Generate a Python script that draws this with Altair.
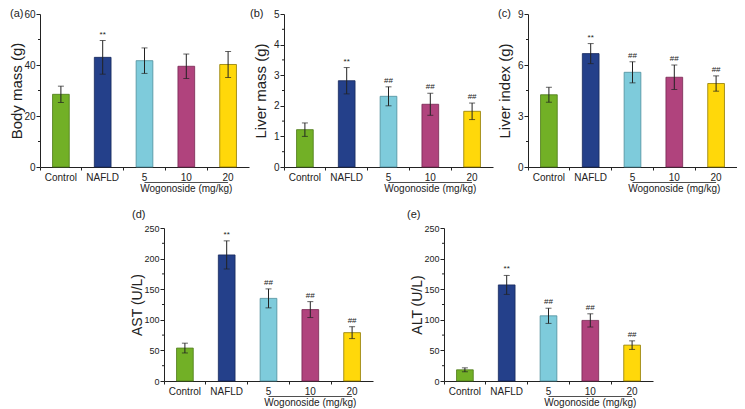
import altair as alt
import pandas as pd

groups = ["Control", "NAFLD", "5", "10", "20"]
fills = ["#72B026", "#24408A", "#7ECBDB", "#B0437D", "#FFD80A"]
strokes = ["#4C7A16", "#15275A", "#4E8E9C", "#772752", "#8F7A00"]

body_mass = [28.5, 43.0, 41.7, 39.5, 40.2]
body_mass_sd = [3.2, 6.6, 5.0, 4.8, 5.1]
liver_mass = [1.22, 2.82, 2.31, 2.05, 1.82]
liver_mass_sd = [0.22, 0.43, 0.31, 0.36, 0.27]
liver_index = [4.25, 6.67, 5.57, 5.28, 4.91]
liver_index_sd = [0.44, 0.59, 0.62, 0.72, 0.45]
ast_vals = [53.8, 206.0, 135.0, 116.7, 79.0]
ast_sd = [8.0, 23.0, 15.5, 13.0, 9.7]
alt_vals = [18.3, 157.0, 106.5, 99.0, 58.6]
alt_sd = [3.2, 15.5, 12.4, 10.8, 7.0]

sig_a = ["", "**", "", "", ""]
sig_other = ["", "**", "##", "##", "##"]

# y-axis tick labels (major) and minor tick positions per panel
ticks_a = [0, 20, 40, 60]
minor_a = [10, 30, 50]
ticks_b = [0, 1, 2, 3, 4, 5]
minor_b = [0.5, 1.5, 2.5, 3.5, 4.5]
ticks_c = [0, 3, 6, 9]
minor_c = [1.5, 4.5, 7.5]
ticks_de = [0, 50, 100, 150, 200, 250]
minor_de = [25, 75, 125, 175, 225]

dose_groups = ["5", "20"]
dose_label_group = ["10"]
dose_label = ["Wogonoside (mg/kg)"]

FONT = "Liberation Sans"
INK = "#222222"
W = 209
H = 153


def panel(letter, letter_dx, letter_dy, ytitle, vals, sds, sig, ticks, minors, tick_fs,
          title_fs, title_x):
    df = pd.DataFrame({"group": groups, "value": vals, "sd": sds, "sig": sig})
    df["lo"] = df["value"] - df["sd"]
    df["hi"] = df["value"] + df["sd"]
    ymax = ticks[-1]

    xs = alt.Scale(domain=groups, paddingInner=0, paddingOuter=0)
    ys = alt.Scale(domain=[0, ymax], nice=False, zero=True)
    base = alt.Chart(df)

    bars = base.mark_bar(width=alt.RelativeBandSize(0.4), strokeWidth=0.8).encode(
        x=alt.X("group:N", scale=xs, sort=groups, axis=alt.Axis(
            title=None, bandPosition=0, tickSize=3,
            labelAngle=0, labelPadding=2, labelFontSize=10, labelFont=FONT,
            labelColor=INK, domainColor=INK, tickColor=INK, grid=False)),
        y=alt.Y("value:Q", scale=ys, axis=alt.Axis(
            values=ticks, tickCount=len(ticks) + 20, format="d", title=ytitle,
            titleFont=FONT, titleFontSize=title_fs, titleFontWeight="normal",
            titleColor=INK, titleX=title_x, titleY=H / 2,
            labelOverlap=False, tickSize=4, labelPadding=1, labelFontSize=tick_fs,
            labelFont=FONT, labelColor=INK, domainColor=INK, tickColor=INK, grid=False)),
        fill=alt.Fill("group:N", scale=alt.Scale(domain=groups, range=fills), legend=None),
        stroke=alt.Stroke("group:N", scale=alt.Scale(domain=groups, range=strokes), legend=None),
    )
    err = base.mark_rule(color=INK, strokeWidth=1).encode(
        x=alt.X("group:N", sort=groups), y=alt.Y("lo:Q"), y2="hi:Q")
    cap_hi = base.mark_tick(orient="horizontal", size=6, thickness=1, color=INK).encode(
        x=alt.X("group:N", sort=groups), y=alt.Y("hi:Q"))
    cap_lo = base.mark_tick(orient="horizontal", size=6, thickness=1, color=INK).encode(
        x=alt.X("group:N", sort=groups), y=alt.Y("lo:Q"))
    sig_txt = base.mark_text(fontSize=8, font=FONT, color=INK, baseline="middle", dy=-6).encode(
        x=alt.X("group:N", sort=groups), y=alt.Y("hi:Q"), text="sig:N")

    minor_df = pd.DataFrame({"value": minors})
    minor_ticks = alt.Chart(minor_df).mark_rule(color=INK, strokeWidth=1).encode(
        y=alt.Y("value:Q"), x=alt.value(-2), x2=alt.value(0))

    line_df = pd.DataFrame({"group": dose_groups})
    dose_line = alt.Chart(line_df).mark_line(color=INK, strokeWidth=0.8).encode(
        x=alt.X("group:N", sort=groups), y=alt.value(H + 15.5))
    lab_df = pd.DataFrame({"group": dose_label_group, "t": dose_label})
    dose_txt = alt.Chart(lab_df).mark_text(fontSize=10, font=FONT, color=INK, baseline="middle").encode(
        x=alt.X("group:N", sort=groups), y=alt.value(H + 21.5), text="t:N")

    let_df = pd.DataFrame({"t": [letter]})
    let_txt = alt.Chart(let_df).mark_text(fontSize=11, font=FONT, color=INK, align="left",
                                          baseline="middle").encode(
        x=alt.value(letter_dx), y=alt.value(letter_dy), text="t:N")

    return alt.layer(bars, err, cap_hi, cap_lo, sig_txt, minor_ticks, dose_line, dose_txt,
                     let_txt).properties(width=W, height=H)


pa = panel("(a)", -30, 0, "Body mass (g)", body_mass, body_mass_sd, sig_a, ticks_a, minor_a,
           10, 15, -16)
pb = panel("(b)", -34, 0, "Liver mass (g)", liver_mass, liver_mass_sd, sig_other, ticks_b,
           minor_b, 10, 15, -16)
pc = panel("(c)", -30, 0, "Liver index (g)", liver_index, liver_index_sd, sig_other, ticks_c,
           minor_c, 10, 15, -16)
pd_ = panel("(d)", -32, -13, "AST (U/L)", ast_vals, ast_sd, sig_other, ticks_de, minor_de,
            9, 14, -20)
pe = panel("(e)", -37, -13, "ALT (U/L)", alt_vals, alt_sd, sig_other, ticks_de, minor_de,
           9, 14, -20)

spacer = alt.Chart(pd.DataFrame({"v": [0]})).mark_point(opacity=0).encode(
    x=alt.value(1), y=alt.value(1)).properties(width=53, height=H)

top = alt.hconcat(pa, pb, pc, spacing=35, bounds="flush").resolve_scale(
    x="independent", y="independent")
bottom = alt.hconcat(spacer, pd_, pe, spacing=71, bounds="flush").resolve_scale(
    x="independent", y="independent")

chart = alt.vconcat(top, bottom, spacing=15).properties(
    padding=0, background="white"
).configure_view(stroke=None)

chart.save("out.html", embed_options={"renderer": "svg", "actions": False})
